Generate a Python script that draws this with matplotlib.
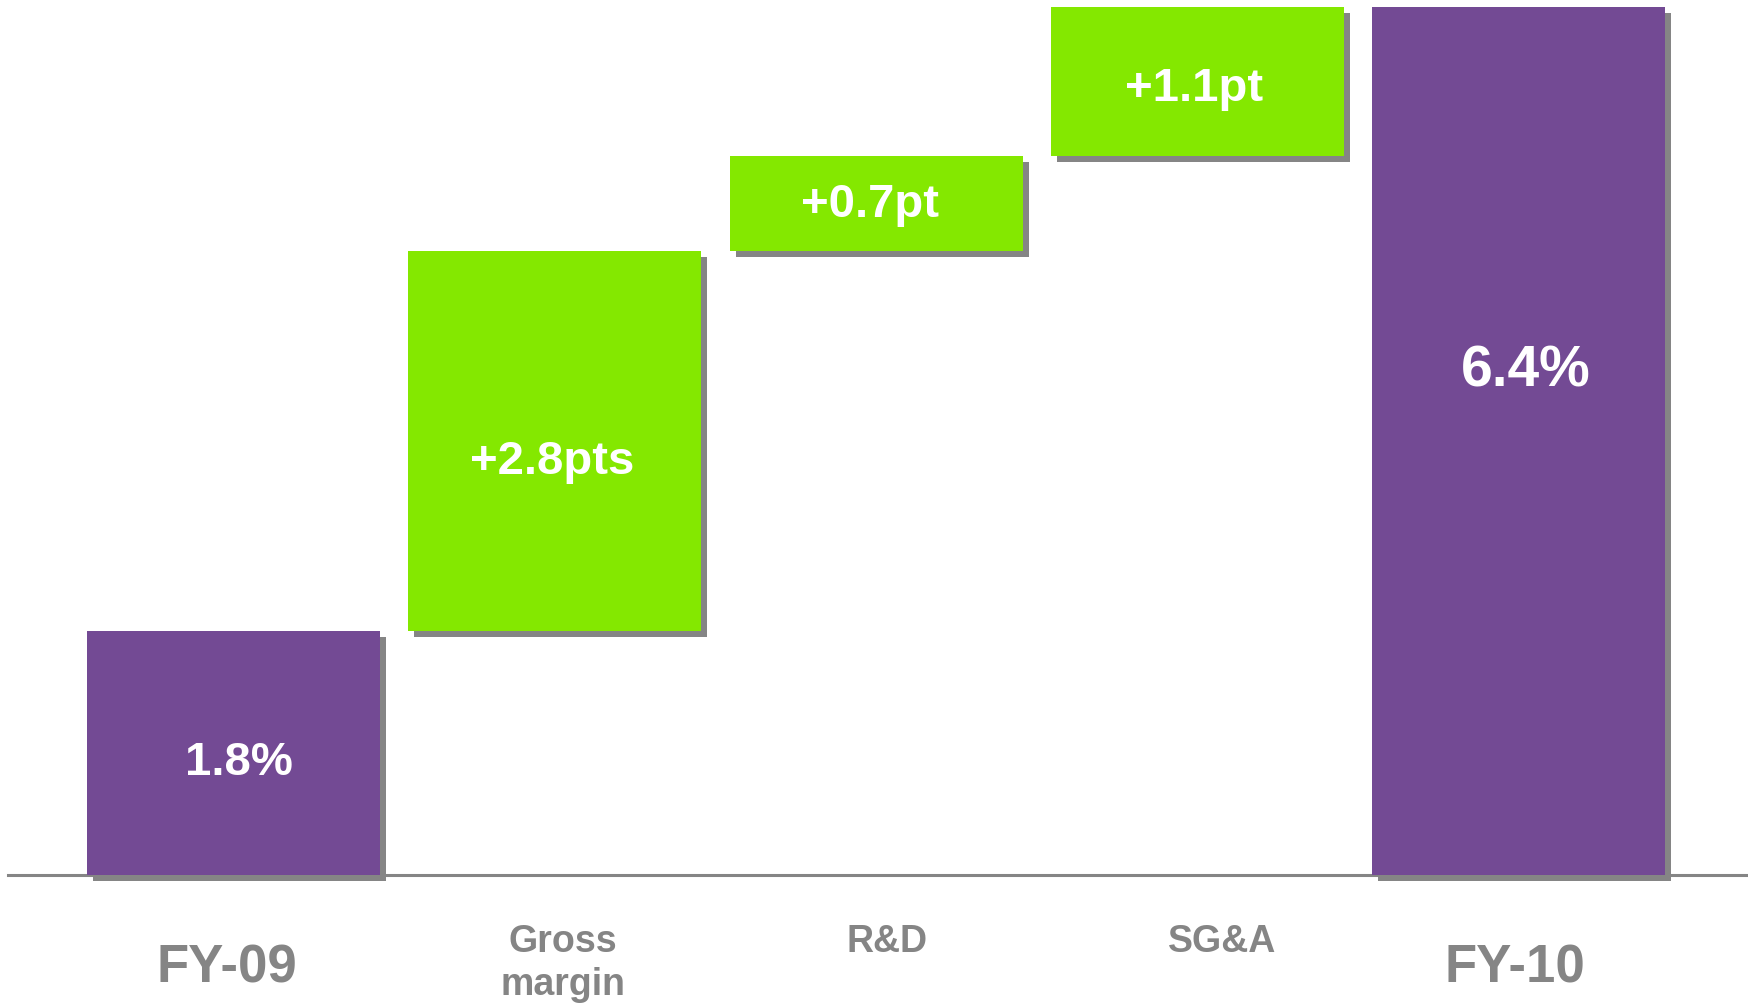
import numpy as np
import matplotlib
matplotlib.use("Agg")
import matplotlib.pyplot as plt
import matplotlib.patheffects as pe

plt.rcParams['font.family'] = ['Liberation Sans', 'DejaVu Sans']

# operating margin bridge, FY-09 -> FY-10
categories = ["FY-09", "Gross\nmargin", "R&D", "SG&A", "FY-10"]
steps = [1.8, 2.8, 0.7, 1.1]
total = 6.4
value_labels = ["1.8%", "+2.8pts", "+0.7pt", "+1.1pt", "6.4%"]

PURPLE = "#734a94"
GREEN = "#84e800"
GREY = "#858585"

heights = np.array(steps + [total])
bottoms = np.concatenate([[0], np.cumsum(steps)[:-1], [0]])
colors = [PURPLE, GREEN, GREEN, GREEN, PURPLE]
x = np.arange(len(categories))

# label placement tweaks (fraction of bar height for value text, x nudges)
val_frac = [0.41, 0.413, 0.36, 0.37, 0.563]
val_dx = [0.017, -0.009, -0.02, -0.009, 0.023]
cat_dx = [-0.02, 0.025, 0.033, 0.078, -0.011]
cat_size = [38, 27, 27, 27, 38]
cat_y = [-0.796, -0.885, -0.569, -0.569, -0.796]
val_size = [34, 34, 34, 34, 41]

fig = plt.figure(figsize=(17.48, 10.05), dpi=100)
ax = fig.add_axes([8 / 1748, 130 / 1005, 1 - 8 / 1748, 875 / 1005])
ax.set_xlim(-0.702, 4.714)
ax.set_ylim(0, 6.452)
ax.axis("off")

ax.axhline(0, color=GREY, lw=2.2, zorder=1, clip_on=False)

shadow = [pe.SimplePatchShadow(offset=(4.3, -4.3), shadow_rgbFace=GREY, alpha=1.0), pe.Normal()]
bars = ax.bar(x, heights, bottom=bottoms, width=0.912, color=colors, zorder=2)
for b in bars:
    b.set_path_effects(shadow)
    b.set_clip_on(False)

for i in range(len(x)):
    ax.text(x[i] + val_dx[i], bottoms[i] + heights[i] * val_frac[i], value_labels[i],
            ha="center", va="baseline", color="white", fontsize=val_size[i],
            fontweight="bold", zorder=3)
    ax.text(x[i] + cat_dx[i], cat_y[i], categories[i], ha="center", va="baseline",
            color=GREY, fontsize=cat_size[i], fontweight="bold",
            linespacing=1.25, clip_on=False)

fig.savefig("out.png", dpi=100, facecolor="white")
